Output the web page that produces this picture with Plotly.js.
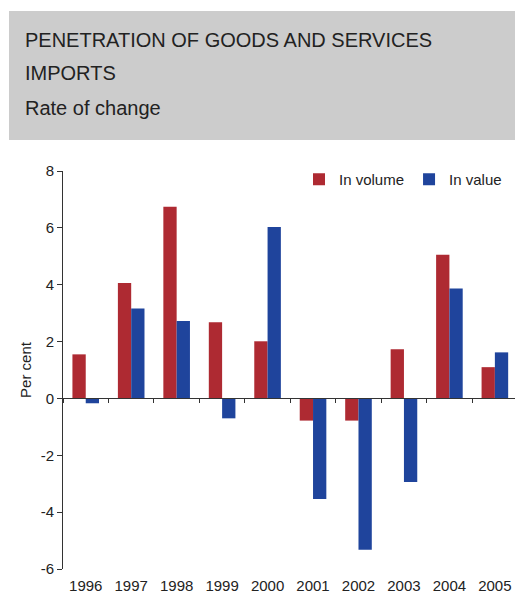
<!DOCTYPE html>
<html>
<head>
<meta charset="utf-8">
<script src="https://cdn.plot.ly/plotly-3.0.1.min.js"></script>
<style>html,body{margin:0;padding:0;background:#fff;}#chart{width:515px;height:597px;}</style>
</head>
<body>
<div id="chart"></div>
<script>
var years = ['1996','1997','1998','1999','2000','2001','2002','2003','2004','2005'];
var inVolume = [1.55, 4.06, 6.74, 2.68, 2.01, -0.78, -0.78, 1.73, 5.05, 1.10];
var inValue = [-0.17, 3.16, 2.72, -0.70, 6.03, -3.54, -5.32, -2.94, 3.87, 1.62];
var yTickVals = [-6, -4, -2, 0, 2, 4, 6, 8];
var yTickText = ['-6', '-4', '-2', '0', '2', '4', '6', '8'];
var titleLine1 = 'PENETRATION OF GOODS AND SERVICES';
var titleLine2 = 'IMPORTS';
var subtitle = 'Rate of change';

var FONT = '"Liberation Sans", Arial, sans-serif';
var TXT = '#222222';
var W = 515, H = 597;
var mL = 63, mR = 0, mT = 171, mB = 28;
var plotW = W - mL - mR, plotH = H - mT - mB;
var catW = 45.46;
function px2x(px){ return (px - mL) / plotW; }
function py2y(py){ return (H - mB - py) / plotH; }
var xRange = [-0.5, -0.5 + plotW / catW];

var traces = [
  {type:'bar', name:'In volume', x: years, y: inVolume, marker:{color:'#AE2A32'}, hoverinfo:'x+y'},
  {type:'bar', name:'In value', x: years, y: inValue, marker:{color:'#1F449C'}, hoverinfo:'x+y'},
  {type:'scatter', mode:'lines', x: years, y: years.map(function(){return null;}), xaxis:'x2', showlegend:false, hoverinfo:'skip'}
];

var layout = {
  width: W, height: H,
  margin: {l: mL, r: mR, t: mT, b: mB, pad: 0},
  paper_bgcolor: '#ffffff', plot_bgcolor: 'rgba(0,0,0,0)',
  font: {family: FONT, size: 15, color: TXT},
  barmode: 'group', bargap: 0.415, bargroupgap: 0,
  showlegend: true,
  legend: {orientation: 'h', x: px2x(507), xanchor: 'right', y: py2y(163), yanchor: 'top',
           font: {family: FONT, size: 15, color: TXT}, bgcolor: 'rgba(0,0,0,0)', itemwidth: 30},
  xaxis: {type: 'category', categoryarray: years, range: xRange, showline: false, ticks: '',
          showgrid: false, zeroline: false, tickfont: {family: FONT, size: 15, color: TXT},
          ticklabelstandoff: 6, fixedrange: true},
  xaxis2: {type: 'category', categoryarray: years, range: xRange, overlaying: 'x', anchor: 'free',
           position: 6/14, side: 'bottom', showline: true, linecolor: '#333333', linewidth: 1,
           ticks: 'outside', tickson: 'boundaries', ticklen: 4, tickcolor: '#333333', tickwidth: 1,
           showticklabels: false, showgrid: false, zeroline: false, fixedrange: true},
  yaxis: {range: [-6, 8], tickvals: yTickVals, ticktext: yTickText, showline: true, linecolor: '#333333',
          linewidth: 1, ticks: 'outside', ticklen: 5, tickcolor: '#333333', showgrid: false, zeroline: false,
          tickfont: {family: FONT, size: 15, color: TXT},
          title: {text: 'Per cent', font: {family: FONT, size: 15, color: TXT}, standoff: 5}, fixedrange: true},
  shapes: [
    {type: 'rect', xref: 'paper', yref: 'paper', x0: px2x(9), x1: px2x(520), y0: py2y(140), y1: py2y(11),
     fillcolor: '#CCCCCC', line: {width: 0}, layer: 'below'}
  ],
  annotations: [
    {xref: 'paper', yref: 'paper', x: px2x(23), y: py2y(40), xanchor: 'left', yanchor: 'middle',
     text: titleLine1, showarrow: false, font: {family: FONT, size: 20, color: TXT}},
    {xref: 'paper', yref: 'paper', x: px2x(23), y: py2y(73), xanchor: 'left', yanchor: 'middle',
     text: titleLine2, showarrow: false, font: {family: FONT, size: 20, color: TXT}},
    {xref: 'paper', yref: 'paper', x: px2x(23), y: py2y(108), xanchor: 'left', yanchor: 'middle',
     text: subtitle, showarrow: false, font: {family: FONT, size: 20, color: TXT}}
  ]
};

Plotly.newPlot('chart', traces, layout, {displayModeBar: false, staticPlot: true});
</script>
</body>
</html>
